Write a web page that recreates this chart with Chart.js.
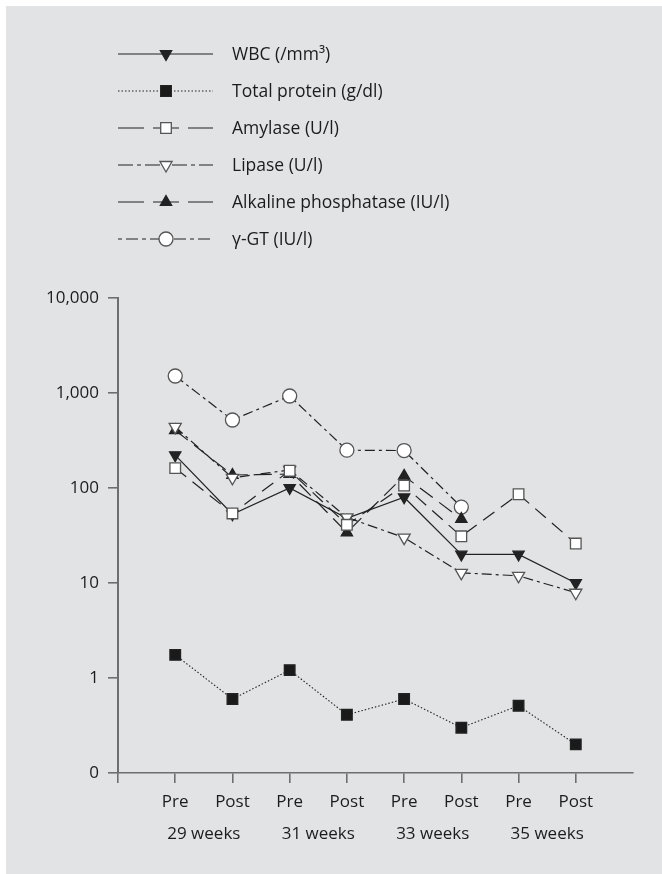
<!DOCTYPE html>
<html>
<head>
<meta charset="utf-8">
<script src="https://cdn.jsdelivr.net/npm/chart.js@4.4.1/dist/chart.umd.min.js"></script>
<style>
  html, body { margin: 0; padding: 0; background: #ffffff; }
  #wrap { width: 662px; height: 874px; position: relative; }
</style>
</head>
<body>
<div id="wrap"><canvas id="chart"></canvas></div>
<script>
// sampling points along the x axis
const phases = ["Pre", "Post", "Pre", "Post", "Pre", "Post", "Pre", "Post"];
const weeks = ["29 weeks", "31 weeks", "33 weeks", "35 weeks"];
const yTickValues = [0.1, 1, 10, 100, 1000, 10000];
const yTickLabels = ["0", "1", "10", "100", "1,000", "10,000"];

// series
const wbc = [222, 53, 100, 48, 80, 20, 20, 10];
const totalProtein = [1.75, 0.6, 1.21, 0.41, 0.6, 0.3, 0.51, 0.2];
const amylase = [162, 54, 152, 41, 106, 31, 86, 26];
const lipase = [440, 128, 155, 49, 30, 12.8, 11.9, 7.9];
const alkPhos = [405, 137, 140, 34, 134, 47, null, null];
const ggt = [1510, 520, 930, 250, 248, 63, null, null];

const INK = "#222222";
const PANEL = "#e2e3e5";
const AXIS = "#6e6e6e";
const FONT = "'Open Sans', 'Noto Sans', sans-serif";

function pts(arr) {
  return arr.map((v, i) => ({ x: i, y: v }));
}

function series(label, arr, style) {
  return Object.assign({
    label,
    data: pts(arr),
    borderColor: INK,
    borderWidth: 1.2,
    pointBorderColor: INK,
    pointBorderWidth: 1.3,
    pointRadius: 7,
    pointHoverRadius: 7,
    spanGaps: false,
    tension: 0,
    fill: false,
  }, style);
}

const datasets = [
  series("WBC (/mm³)", wbc, {
    order: 2,
    borderDash: [], legendDash: [],
    pointStyle: "triangle", pointRotation: 180,
    pointBackgroundColor: INK, pointRadius: 6.5,
  }),
  series("Total protein (g/dl)", totalProtein, {
    order: 2,
    borderDash: [1.5, 2], legendDash: [1.5, 2], borderWidth: 1.1,
    pointStyle: "rect", pointBackgroundColor: "#1a1a1a", pointRadius: 7.5,
  }),
  series("Amylase (U/l)", amylase, {
    order: 0,
    borderDash: [14, 8], legendDash: [26, 9],
    pointStyle: "rect", pointBackgroundColor: "#ffffff",
    pointBorderColor: "#555", pointRadius: 7.5,
  }),
  series("Lipase (U/l)", lipase, {
    order: 1,
    borderDash: [10, 4, 3, 4], legendDash: [15, 4, 4, 4],
    pointStyle: "triangle", pointRotation: 180,
    pointBackgroundColor: "#ffffff", pointBorderColor: "#555", pointRadius: 7,
  }),
  series("Alkaline phosphatase (IU/l)", alkPhos, {
    order: 1,
    borderDash: [16, 8], legendDash: [26, 9],
    pointStyle: "triangle", pointRotation: 0,
    pointBackgroundColor: INK, pointRadius: 6.5,
  }),
  series("γ-GT (IU/l)", ggt, {
    order: 1,
    borderDash: [10, 4, 3, 4], legendDash: [4, 4, 12, 4],
    pointStyle: "circle", pointBackgroundColor: "#ffffff",
    pointBorderColor: "#555", pointRadius: 7,
  }),
];

function drawMarker(ctx, ds, x, y) {
  const r = ds.pointRadius;
  ctx.save();
  ctx.setLineDash([]);
  ctx.lineWidth = ds.pointBorderWidth;
  ctx.strokeStyle = ds.pointBorderColor;
  ctx.fillStyle = ds.pointBackgroundColor;
  ctx.beginPath();
  if (ds.pointStyle === "circle") {
    ctx.arc(x, y, r, 0, Math.PI * 2);
  } else if (ds.pointStyle === "rect") {
    const s = r * Math.SQRT1_2;
    ctx.rect(x - s, y - s, 2 * s, 2 * s);
  } else {
    let rad = (ds.pointRotation || 0) * Math.PI / 180;
    for (let k = 0; k < 3; k++) {
      const px = x + Math.sin(rad) * r;
      const py = y - Math.cos(rad) * r;
      if (k === 0) ctx.moveTo(px, py); else ctx.lineTo(px, py);
      rad += 2 * Math.PI / 3;
    }
    ctx.closePath();
  }
  ctx.fill();
  ctx.stroke();
  ctx.restore();
}

const panelPlugin = {
  id: "panel",
  beforeDraw(chart) {
    const ctx = chart.ctx;
    ctx.save();
    ctx.fillStyle = PANEL;
    ctx.fillRect(6, 6, chart.width - 6, chart.height - 6);
    ctx.restore();
  },
};

const legendPlugin = {
  id: "sideLegend",
  afterDraw(chart) {
    const ctx = chart.ctx;
    chart.data.datasets.forEach((ds, i) => {
      const y = 54 + i * 37;
      ctx.save();
      ctx.strokeStyle = ds.borderColor;
      ctx.lineWidth = ds.borderWidth;
      ctx.setLineDash(ds.legendDash);
      ctx.beginPath();
      ctx.moveTo(118, y);
      ctx.lineTo(213, y);
      ctx.stroke();
      ctx.restore();
      drawMarker(ctx, ds, 166, y);
      ctx.save();
      ctx.fillStyle = "#1c1c1c";
      ctx.font = "17.5px " + FONT;
      ctx.textBaseline = "middle";
      ctx.fillText(ds.label, 232, y + 1);
      ctx.restore();
    });
  },
};

new Chart(document.getElementById("chart"), {
  type: "line",
  data: { datasets },
  options: {
    responsive: true,
    maintainAspectRatio: false,
    animation: false,
    layout: { padding: { top: 298, right: 29, bottom: 12, left: 0 } },
    plugins: {
      legend: { display: false },
      tooltip: { enabled: false },
    },
    scales: {
      x: {
        type: "linear",
        position: "bottom",
        min: -1,
        max: 8,
        afterBuildTicks: (scale) => {
          scale.ticks = [-1, 0, 1, 2, 3, 4, 5, 6, 7].map((v) => ({ value: v }));
        },
        afterFit: (scale) => { scale.height = 39; },
        ticks: {
          autoSkip: false,
          maxRotation: 0,
          padding: 9,
          color: "#1c1c1c",
          font: { family: FONT, size: 17 },
          callback: (v) => (v >= 0 ? phases[v] : ""),
        },
        grid: {
          drawOnChartArea: false,
          drawTicks: true,
          tickLength: 10,
          color: AXIS,
          lineWidth: 1.6,
        },
        border: { display: true, color: AXIS, width: 1.6 },
      },
      x2: {
        type: "linear",
        axis: "x",
        position: "bottom",
        min: -1,
        max: 8,
        afterBuildTicks: (scale) => {
          scale.ticks = [0.5, 2.5, 4.5, 6.5].map((v) => ({ value: v }));
        },
        afterFit: (scale) => { scale.height = 50; },
        ticks: {
          autoSkip: false,
          maxRotation: 0,
          padding: 12,
          color: "#1c1c1c",
          font: { family: FONT, size: 17 },
          callback: (v) => weeks[Math.round((v - 0.5) / 2)],
        },
        grid: { display: false, drawTicks: false },
        border: { display: false },
      },
      y: {
        type: "logarithmic",
        min: 0.1,
        max: 10000,
        afterBuildTicks: (scale) => {
          scale.ticks = yTickValues.map((v) => ({ value: v }));
        },
        afterFit: (scale) => { scale.width = 118; },
        ticks: {
          autoSkip: false,
          padding: 9,
          color: "#1c1c1c",
          font: { family: FONT, size: 17 },
          callback: (v) => yTickLabels[yTickValues.indexOf(v)],
        },
        grid: {
          drawOnChartArea: false,
          drawTicks: true,
          tickLength: 10,
          color: AXIS,
          lineWidth: 1.6,
        },
        border: { display: true, color: AXIS, width: 2 },
      },
    },
  },
  plugins: [panelPlugin, legendPlugin],
});
</script>
</body>
</html>
